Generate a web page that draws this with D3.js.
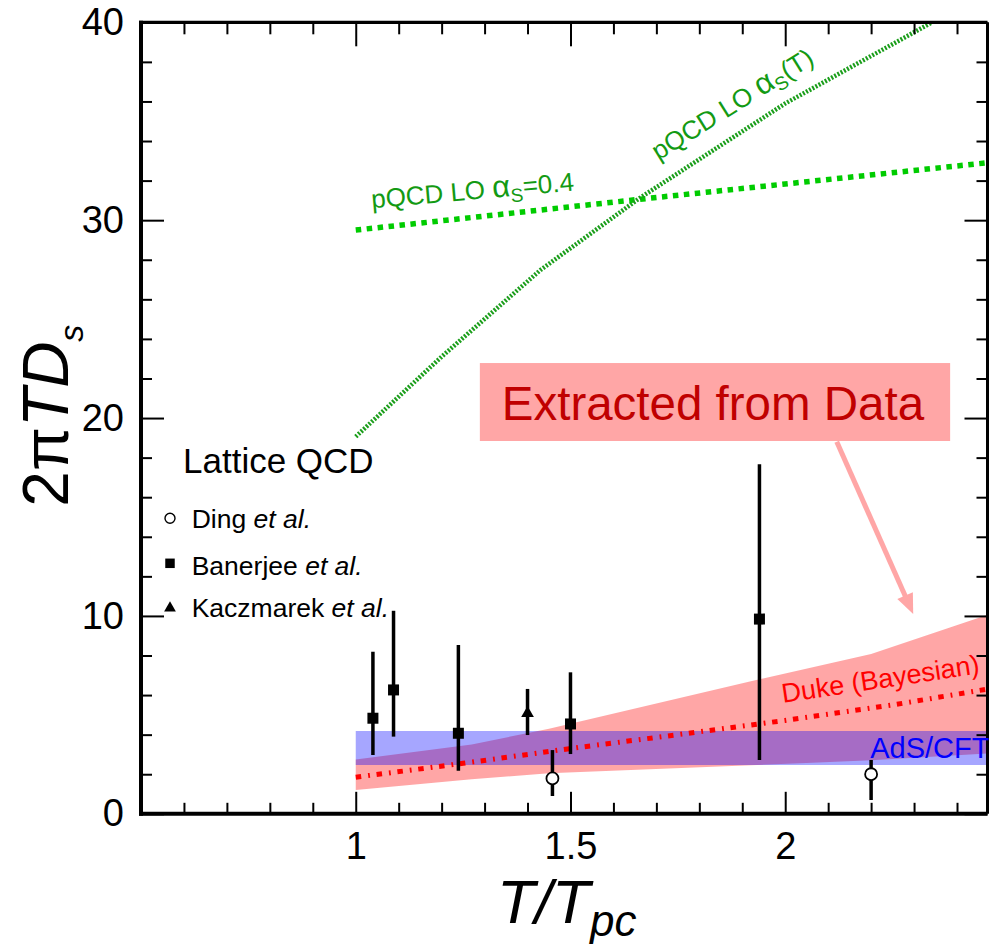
<!DOCTYPE html>
<html>
<head>
<meta charset="utf-8">
<script src="https://cdn.jsdelivr.net/npm/d3@7"></script>
<style>
  html, body { margin: 0; padding: 0; background: #fff; }
  svg { display: block; font-family: "Liberation Sans", Arial, sans-serif; }
</style>
</head>
<body>
<svg id="chart" width="989" height="944"></svg>
<script>
// ---- data: heavy-quark spatial diffusion coefficient 2πTD_s vs T/T_pc ----

// Lattice QCD, Banerjee et al. (filled squares)
const banerjeeT  = [1.04, 1.088, 1.239, 1.5, 1.94];
const banerjeeV  = [4.83, 6.26, 4.07, 4.54, 9.84];
const banerjeeLo = [2.97, 3.90, 2.18, 3.02, 2.72];
const banerjeeHi = [8.19, 10.26, 8.53, 7.15, 17.66];

// Lattice QCD, Ding et al. (open circles)
const dingT  = [1.458, 2.2];
const dingV  = [1.79, 2.0];
const dingLo = [0.90, 0.70];
const dingHi = [3.22, 2.72];

// Lattice QCD, Kaczmarek et al. (triangle)
const kaczT  = [1.4];
const kaczV  = [5.08];
const kaczLo = [3.98];
const kaczHi = [6.31];

// pQCD leading order, fixed coupling alpha_s = 0.4
const pqcdFixT = [1.0, 1.68, 2.47];
const pqcdFixV = [29.5, 31.1, 32.9];

// pQCD leading order, running coupling alpha_s(T)
const pqcdRunT = [1.0, 1.2, 1.43, 1.66, 2.0, 2.342];
const pqcdRunV = [19.06, 23.1, 27.48, 31.1, 35.9, 40.0];

// Duke Bayesian extraction: 90% band and median
const dukeBandT = [1.0, 1.27, 1.45, 1.92, 2.2, 2.47];
const dukeLo    = [1.2, 1.75, 2.05, 2.45, 2.7, 3.05];
const dukeHi    = [2.75, 3.5, 4.3, 6.7, 8.07, 10.05];
const dukeMidT  = [1.0, 1.25, 1.5, 1.75, 2.0, 2.25, 2.47];
const dukeMid   = [1.85, 2.55, 3.3, 4.0, 4.72, 5.5, 6.3];

// AdS/CFT range
const adsT  = [1.0, 2.47];
const adsLo = [2.47, 2.47];
const adsHi = [4.18, 4.18];

// axis ticks
const xMajor = [1, 1.5, 2];
const xTickLabels = ["1", "1.5", "2"];
const xMinor = d3.range(6, 25).map(d => d / 10).filter(d => !xMajor.includes(d));
const yMajor = [0, 10, 20, 30, 40];
const yTickLabels = ["0", "10", "20", "30", "40"];
const yMinor = d3.range(2, 40, 2).filter(d => d % 10 !== 0);

// ---- layout ----
const svg = d3.select("#chart");
const x = d3.scaleLinear().domain([0.5, 2.471]).range([141, 987.5]);
const y = d3.scaleLinear().domain([0, 40]).range([813.8, 22.3]);

const zip = (a, b) => a.map((v, i) => [v, b[i]]);

svg.append("defs").append("clipPath").attr("id", "plot")
  .append("rect").attr("x", x(0.5)).attr("y", y(40))
  .attr("width", x(2.471) - x(0.5)).attr("height", y(0) - y(40));

const plot = svg.append("g").attr("clip-path", "url(#plot)");

// bands
const band = d3.area().x(d => x(d[0])).y0(d => y(d[1])).y1(d => y(d[2]));
plot.append("path")
  .datum(dukeBandT.map((t, i) => [t, dukeLo[i], dukeHi[i]]))
  .attr("d", band).attr("fill", "rgb(255,0,0)").attr("fill-opacity", 0.35);
plot.append("path")
  .datum(adsT.map((t, i) => [t, adsLo[i], adsHi[i]]))
  .attr("d", band).attr("fill", "rgb(0,0,255)").attr("fill-opacity", 0.35);

const line = d3.line().x(d => x(d[0])).y(d => y(d[1]));

// Duke median, dash-dot
plot.append("path").datum(zip(dukeMidT, dukeMid)).attr("d", line)
  .attr("fill", "none").attr("stroke", "#ff0000").attr("stroke-width", 5)
  .attr("stroke-dasharray", "5.5 7 1.8 6.7");

// pQCD curves
plot.append("path").datum(zip(pqcdFixT, pqcdFixV)).attr("d", line)
  .attr("fill", "none").attr("stroke", "#00cc00").attr("stroke-width", 5.5)
  .attr("stroke-dasharray", "5.5 5.5");
plot.append("path").datum(zip(pqcdRunT, pqcdRunV)).attr("d", line)
  .attr("fill", "none").attr("stroke", "#1b9e1b").attr("stroke-width", 4.5)
  .attr("stroke-dasharray", "2 1.6");

// error bars
function errorBars(T, lo, hi) {
  plot.append("g").selectAll("line").data(T).join("line")
    .attr("x1", d => x(d)).attr("x2", d => x(d))
    .attr("y1", (d, i) => y(lo[i])).attr("y2", (d, i) => y(hi[i]))
    .attr("stroke", "#000").attr("stroke-width", 3.5);
}
errorBars(banerjeeT, banerjeeLo, banerjeeHi);
errorBars(dingT, dingLo, dingHi);
errorBars(kaczT, kaczLo, kaczHi);

const sqSym = d3.symbol().type(d3.symbolSquare).size(121);
const triSym = d3.symbol().type(d3.symbolTriangle).size(70);

plot.append("g").selectAll("path").data(banerjeeT).join("path")
  .attr("transform", (d, i) => `translate(${x(d)},${y(banerjeeV[i])})`)
  .attr("d", sqSym).attr("fill", "#000");
plot.append("g").selectAll("path").data(kaczT).join("path")
  .attr("transform", (d, i) => `translate(${x(d)},${y(kaczV[i])})`)
  .attr("d", triSym).attr("fill", "#000");
plot.append("g").selectAll("circle").data(dingT).join("circle")
  .attr("cx", d => x(d)).attr("cy", (d, i) => y(dingV[i])).attr("r", 6)
  .attr("fill", "#fff").attr("stroke", "#000").attr("stroke-width", 1.8);

// ---- axes ----
function ticks(axis, vals, size, transform) {
  const g = svg.append("g").attr("transform", transform)
    .call(axis.tickValues(vals).tickSize(size).tickFormat(() => ""));
  g.select(".domain").remove();
  g.selectAll(".tick line").attr("stroke", "#000").attr("stroke-width", 2);
  return g;
}
// bottom (ticks inward)
ticks(d3.axisTop(x), xMinor, 11, `translate(0,${y(0)})`);
ticks(d3.axisTop(x), xMajor, 22, `translate(0,${y(0)})`);
// top
ticks(d3.axisBottom(x), xMinor, 12, `translate(0,${y(40)})`);
ticks(d3.axisBottom(x), xMajor, 24, `translate(0,${y(40)})`);
// left
ticks(d3.axisRight(y), yMinor, 11, `translate(${x(0.5)},0)`);
ticks(d3.axisRight(y), yMajor, 23, `translate(${x(0.5)},0)`);
// right
ticks(d3.axisLeft(y), yMinor, 11, `translate(${x(2.471)},0)`);
ticks(d3.axisLeft(y), yMajor, 23, `translate(${x(2.471)},0)`);

// tick labels
const xl = svg.append("g").attr("transform", `translate(0,${y(0)})`)
  .call(d3.axisBottom(x).tickValues(xMajor).tickSize(0).tickPadding(18)
    .tickFormat((d, i) => xTickLabels[i]));
xl.select(".domain").remove();
xl.selectAll("text").attr("font-size", 38).attr("fill", "#000")
  .attr("font-family", "Liberation Sans, Arial, sans-serif");

const yl = svg.append("g").attr("transform", `translate(${x(0.5)},0)`)
  .call(d3.axisLeft(y).tickValues(yMajor).tickSize(0).tickPadding(17)
    .tickFormat((d, i) => yTickLabels[i]));
yl.select(".domain").remove();
yl.selectAll("text").attr("font-size", 38).attr("fill", "#000")
  .attr("font-family", "Liberation Sans, Arial, sans-serif");

// frame
const frame = svg.append("g").attr("stroke", "#000");
frame.append("line").attr("x1", x(0.5)).attr("x2", x(0.5)).attr("y1", y(40) - 1.5).attr("y2", y(0) + 2).attr("stroke-width", 4);
frame.append("line").attr("x1", x(0.5) - 2).attr("x2", x(2.471)).attr("y1", y(0)).attr("y2", y(0)).attr("stroke-width", 4);
frame.append("line").attr("x1", x(0.5) - 2).attr("x2", x(2.471)).attr("y1", y(40)).attr("y2", y(40)).attr("stroke-width", 3.3);
frame.append("line").attr("x1", x(2.471)).attr("x2", x(2.471)).attr("y1", y(40)).attr("y2", y(0)).attr("stroke-width", 3);

// axis titles
const yt = svg.append("text").attr("transform", "translate(68.3,506.7) rotate(-90)")
  .attr("font-size", 64).attr("fill", "#000");
yt.append("tspan").text("2π");
yt.append("tspan").attr("font-style", "italic").text("TD");
yt.append("tspan").attr("font-size", 34).attr("font-style", "italic").attr("dy", 15).text("s");

const xt = svg.append("text").attr("x", 497).attr("y", 923)
  .attr("font-size", 62).attr("fill", "#000").attr("font-style", "italic");
xt.append("tspan").text("T/T");
xt.append("tspan").attr("font-size", 44).attr("dy", 13).text("pc");

// ---- annotations ----
const green = "#139a13";
function pqcdLabel(transform, tail) {
  const t = svg.append("text").attr("transform", transform)
    .attr("font-size", 26).attr("fill", green);
  t.append("tspan").text("pQCD LO ");
  t.append("tspan").attr("font-size", 31).text("α");
  t.append("tspan").attr("font-size", 19).attr("dy", 6).text("S");
  t.append("tspan").attr("dy", -6).text(tail);
}
pqcdLabel(`translate(${x(1.038)},${y(30.6)}) rotate(-5)`, "=0.4");
pqcdLabel(`translate(${x(1.705)},${y(33.0)}) rotate(-32)`, "(T)");

svg.append("text")
  .attr("transform", `translate(${x(1.995)},${y(5.61)}) rotate(-8.5)`)
  .attr("font-size", 27).attr("fill", "#ff0000").text("Duke (Bayesian)");

svg.append("text").attr("x", x(2.198)).attr("y", y(2.8))
  .attr("font-size", 29).attr("fill", "#0000ff").text("AdS/CFT");

// "Extracted from Data" callout
const pink = "#ffa6a6";
svg.append("rect")
  .attr("x", x(1.289)).attr("y", y(22.78))
  .attr("width", x(2.384) - x(1.289)).attr("height", y(18.84) - y(22.78))
  .attr("fill", pink);
svg.append("text").attr("x", x(1.34)).attr("y", y(19.9))
  .attr("font-size", 47.5).attr("fill", "#c00000").text("Extracted from Data");

const a0 = [x(2.12), y(18.8)], a1 = [x(2.298), y(10.1)];
const dx = a1[0] - a0[0], dy = a1[1] - a0[1], len = Math.hypot(dx, dy);
const ux = dx / len, uy = dy / len, hl = 20, hw = 8.5;
const base = [a1[0] - ux * hl, a1[1] - uy * hl];
svg.append("line").attr("x1", a0[0]).attr("y1", a0[1]).attr("x2", base[0] + ux * 2).attr("y2", base[1] + uy * 2)
  .attr("stroke", pink).attr("stroke-width", 5);
svg.append("path")
  .attr("d", `M${a1[0]},${a1[1]} L${base[0] - uy * hw},${base[1] + ux * hw} L${base[0] + uy * hw},${base[1] - ux * hw} Z`)
  .attr("fill", pink);

// ---- legend ----
const leg = svg.append("g").attr("fill", "#000");
leg.append("text").attr("x", 183).attr("y", 473.3).attr("font-size", 35).text("Lattice QCD");
const entries = [
  { name: "Ding ", cy: 518.3, ty: 528.3, kind: "circle" },
  { name: "Banerjee ", cy: 563.3, ty: 575, kind: "square" },
  { name: "Kaczmarek ", cy: 608, ty: 616.7, kind: "triangle" }
];
entries.forEach(e => {
  if (e.kind === "circle") {
    leg.append("circle").attr("cx", 170).attr("cy", e.cy).attr("r", 5)
      .attr("fill", "#fff").attr("stroke", "#000").attr("stroke-width", 1.4);
  } else {
    leg.append("path").attr("transform", `translate(170,${e.cy})`)
      .attr("d", d3.symbol().type(e.kind === "square" ? d3.symbolSquare : d3.symbolTriangle)
        .size(e.kind === "square" ? 90 : 60));
  }
  const t = leg.append("text").attr("x", 191.7).attr("y", e.ty).attr("font-size", 26.5);
  t.append("tspan").text(e.name);
  t.append("tspan").attr("font-style", "italic").text("et al.");
});
</script>
</body>
</html>
